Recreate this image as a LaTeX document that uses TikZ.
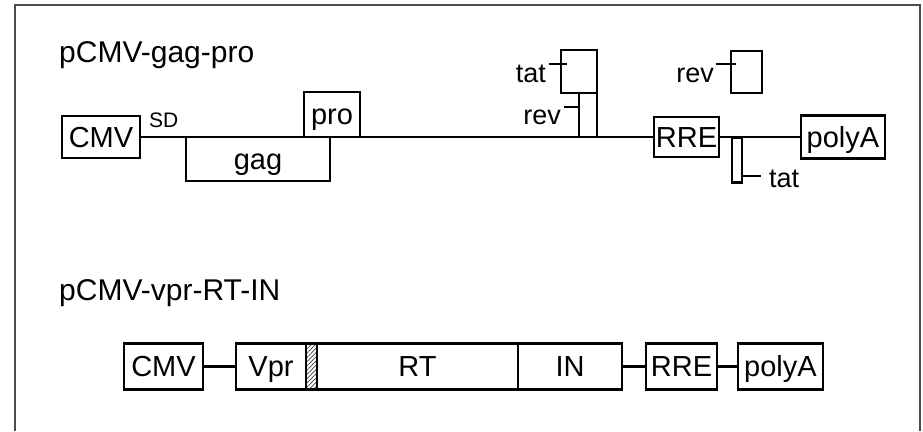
\documentclass[tikz,border=0pt]{standalone}
\usepackage{fontspec}
\setmainfont{Liberation Sans}
\usetikzlibrary{patterns.meta}
\begin{document}
\begin{tikzpicture}[x=1pt,y=-1pt,
 box/.style={draw, line width=2.2pt, fill=white, inner sep=0pt, text height=20.5pt, text depth=0pt,
   font=\fontsize{29}{31}\selectfont},
 lbl/.style={inner sep=0pt, font=\fontsize{27}{29}\selectfont},
 ttl/.style={inner sep=0pt, font=\fontsize{30}{32}\selectfont, anchor=base west},
 wire/.style={line width=2.4pt},
 tick/.style={line width=2pt},
 frame/.style={line width=2.2pt, draw=black!70}]
\useasboundingbox (0,0) rectangle (923,431);
\draw[frame] (15,431) -- (15,5) -- (920,5) -- (920,431);

% ---- pCMV-gag-pro ----
\node[ttl] (t1) at (59,62) {pCMV-gag-pro};
\node[box, minimum width=78pt, minimum height=42pt] (cmv1) at (101,137) {CMV};
\node[box, minimum width=65pt, minimum height=40pt] (rre1) at (686.5,137) {RRE};
\node[box, minimum width=84pt, minimum height=43pt] (polya1) at (843,137) {polyA};
\draw[wire] (cmv1.east) -- (rre1.west);
\draw[wire] (rre1.east) -- (polya1.west);
\node[box, minimum width=144pt, minimum height=44pt] (gag) at (258,159) {gag};
\node[box, minimum width=56pt, minimum height=45pt] (pro) at (332,114.5) {pro};
\node[inner sep=0pt, anchor=base west, font=\fontsize{21}{23}\selectfont] (sd) at (149,127) {SD};

\node[box, minimum width=36pt, minimum height=43pt] (tat1) at (579,71.5) {};
\node[box, minimum width=18pt, minimum height=44pt] (rev1) at (588,115) {};
\node[box, minimum width=31pt, minimum height=42pt] (rev2) at (746.5,72) {};
\node[box, minimum width=10pt, minimum height=45pt] (tat2) at (737,160) {};

\node[lbl, anchor=base east] (tat1l) at (546,82) {tat};
\draw[tick] ([xshift=-11pt,yshift=-15pt]tat1.north west) -- ++(18,0);
\node[lbl, anchor=base east] (rev1l) at (561,124) {rev};
\draw[tick] ([xshift=-14pt,yshift=-15pt]rev1.north west) -- ++(14,0);
\node[lbl, anchor=base east] (rev2l) at (714,82) {rev};
\draw[tick] ([xshift=-14pt,yshift=-14pt]rev2.north west) -- ++(20,0);
\node[lbl, anchor=base west] (tat2l) at (769,187) {tat};
\draw[tick] ([yshift=8pt]tat2.south east) -- ++(18,0);

% ---- pCMV-vpr-RT-IN ----
\node[ttl] (t2) at (59,300) {pCMV-vpr-RT-IN};
\node[box, minimum width=79pt, minimum height=46pt] (cmv2) at (163.5,366.5) {CMV};
\node[box, minimum width=70pt, minimum height=46pt] (vpr) at (271,366.5) {Vpr};
\node[box, minimum width=11pt, minimum height=46pt,
      pattern={Lines[angle=45,distance=3pt,line width=0.7pt]}, pattern color=black!75] (hatch) at (311.5,366.5) {};
\node[box, minimum width=201pt, minimum height=46pt] (rt) at (417.5,366.5) {RT};
\node[box, minimum width=104pt, minimum height=46pt] (in) at (570,366.5) {IN};
\node[box, minimum width=71pt, minimum height=46pt] (rre2) at (681.5,366.5) {RRE};
\node[box, minimum width=85pt, minimum height=46pt] (polya2) at (780.5,366.5) {polyA};
\draw[wire] (cmv2.east) -- (vpr.west);
\draw[wire] (in.east) -- (rre2.west);
\draw[wire] (rre2.east) -- (polya2.west);
\end{tikzpicture}
\end{document}
